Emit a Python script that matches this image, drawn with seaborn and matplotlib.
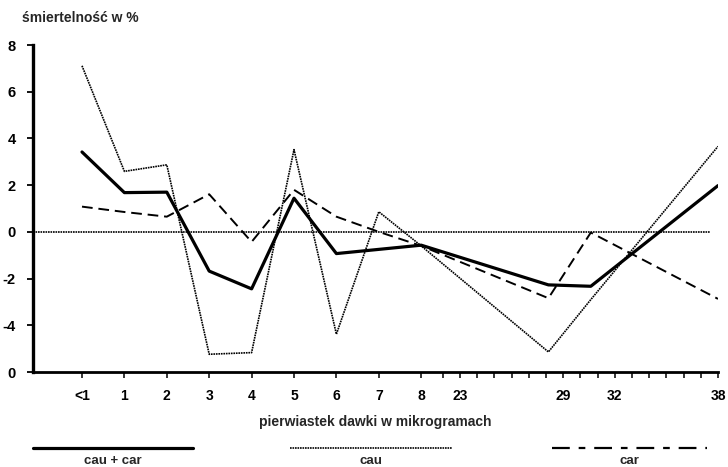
import numpy as np
import pandas as pd
import matplotlib
matplotlib.use("Agg")
import matplotlib.pyplot as plt
from matplotlib.lines import Line2D
import seaborn as sns

# ---- data ----
dose_labels = ["<1", "1", "2", "3", "4", "5", "6", "7", "8", "29", "32", "38"]
dose_pos = [0, 1, 2, 3, 4, 5, 6, 7, 8, 11, 12, 15]
cau_car = [3.42, 1.68, 1.70, -1.68, -2.44, 1.44, -0.93, -0.75, -0.57, -2.27, -2.33, 1.98]
cau = [7.11, 2.59, 2.87, -5.24, -5.17, 3.52, -4.38, 0.86, -0.60, -5.14, -2.9, 3.66]
car = [1.08, 0.85, 0.65, 1.61, -0.43, 1.80, 0.65, 0.0, -0.60, -2.84, -0.03, -2.87]

low_tick_labels = ["<1", "1", "2", "3", "4", "5", "6", "7", "8"]
high_tick_units = list(range(22, 39))          # fine ticks after the axis break
high_tick_labels = {23: "23", 29: "29", 32: "32", 38: "38"}
ytick_vals = [8, 6, 4, 2, 0, -2, -4, -6]
ytick_labels = ["8", "6", "4", "2", "0", "-2", "-4", "0"]

series_names = ["cau + car", "cau", "car"]

df = pd.DataFrame({
    "pos": dose_pos * 3,
    "val": cau_car + cau + car,
    "series": [series_names[0]] * len(dose_pos) + [series_names[1]] * len(dose_pos) + [series_names[2]] * len(dose_pos),
})

sns.set_style("ticks")
plt.rcParams["font.family"] = ["Liberation Sans", "DejaVu Sans"]
plt.rcParams["font.weight"] = "bold"
plt.rcParams["xtick.bottom"] = True
plt.rcParams["ytick.left"] = True
plt.rcParams["xtick.color"] = "black"
plt.rcParams["ytick.color"] = "black"

fig = plt.figure(figsize=(7.28, 4.67), dpi=100)
W, H = 728, 467
left, right, top, bottom = 33, 718, 45, 372
ax = fig.add_axes([left / W, 1 - bottom / H, (right - left) / W, (bottom - top) / H])

DOT = (0, (1.0, 0.5))
styles = {
    "cau + car": dict(lw=2.3, ls="-"),
    "cau": dict(lw=1.2, ls=DOT),
    "car": dict(lw=1.4, ls=(0, (5.5, 3.0))),
}
for name in series_names:
    sub = df[df["series"] == name]
    sns.lineplot(data=sub, x="pos", y="val", ax=ax, color="black",
                 linewidth=styles[name]["lw"], linestyle=styles[name]["ls"],
                 legend=False, estimator=None, sort=False)

ax.axhline(0, xmin=0, xmax=(710 - left) / (right - left), color="black",
           lw=1.2, ls=DOT)

ax.set_xlim(-(82 - left) / 42.4, 15)
ax.set_ylim(-6, 8)
ax.set_xlabel("")
ax.set_ylabel("")

# axis break: units 22..38 spaced evenly, 22 sits at 8.51
unit_step = (15 - 8.51) / (high_tick_units[-1] - high_tick_units[0])
xt = list(range(len(low_tick_labels))) + [8.51 + (u - 22) * unit_step for u in high_tick_units]
xl = low_tick_labels + [high_tick_labels.get(u, "") for u in high_tick_units]
ax.set_xticks(xt)
ax.set_xticklabels(xl)
ax.set_yticks(ytick_vals)
ax.set_yticklabels(ytick_labels)

for s in ["top", "right"]:
    ax.spines[s].set_visible(False)
ax.spines["left"].set_linewidth(2.4)
ax.spines["bottom"].set_linewidth(2.0)
ax.spines["left"].set_color("black")
ax.spines["bottom"].set_color("black")
ax.tick_params(axis="x", which="major", direction="out", length=4.5, width=1.1, pad=8,
               labelsize=10, bottom=True, color="black", labelcolor="black")
ax.tick_params(axis="y", which="major", direction="out", length=4.5, width=1.3, pad=8,
               labelsize=10.5, left=True, color="black", labelcolor="black")
for t in ax.get_xticklabels() + ax.get_yticklabels():
    t.set_fontweight("bold")

fig.text(22 / W, 1 - 18 / H, "śmiertelność w %", fontsize=10, fontweight="bold",
         ha="left", va="center")
fig.text(375 / W, 1 - 422 / H, "pierwiastek dawki w mikrogramach", fontsize=10,
         fontweight="bold", ha="center", va="center")

leg = [
    ("cau + car", 33, 193, dict(lw=2.3, ls="-")),
    ("cau", 290, 452, dict(lw=1.2, ls=DOT)),
    ("car", 552, 707, dict(lw=1.6, ls=(0, (8, 4, 3, 4)))),
]
for name, x0, x1, st in leg:
    fig.add_artist(Line2D([x0 / W, x1 / W], [1 - 448 / H] * 2, color="black",
                          lw=st["lw"], ls=st["ls"], transform=fig.transFigure))
    fig.text((x0 + x1) / 2 / W, 1 - 461 / H, name, fontsize=9.5, fontweight="bold",
             ha="center", va="center")

fig.savefig("out.png", dpi=100)
